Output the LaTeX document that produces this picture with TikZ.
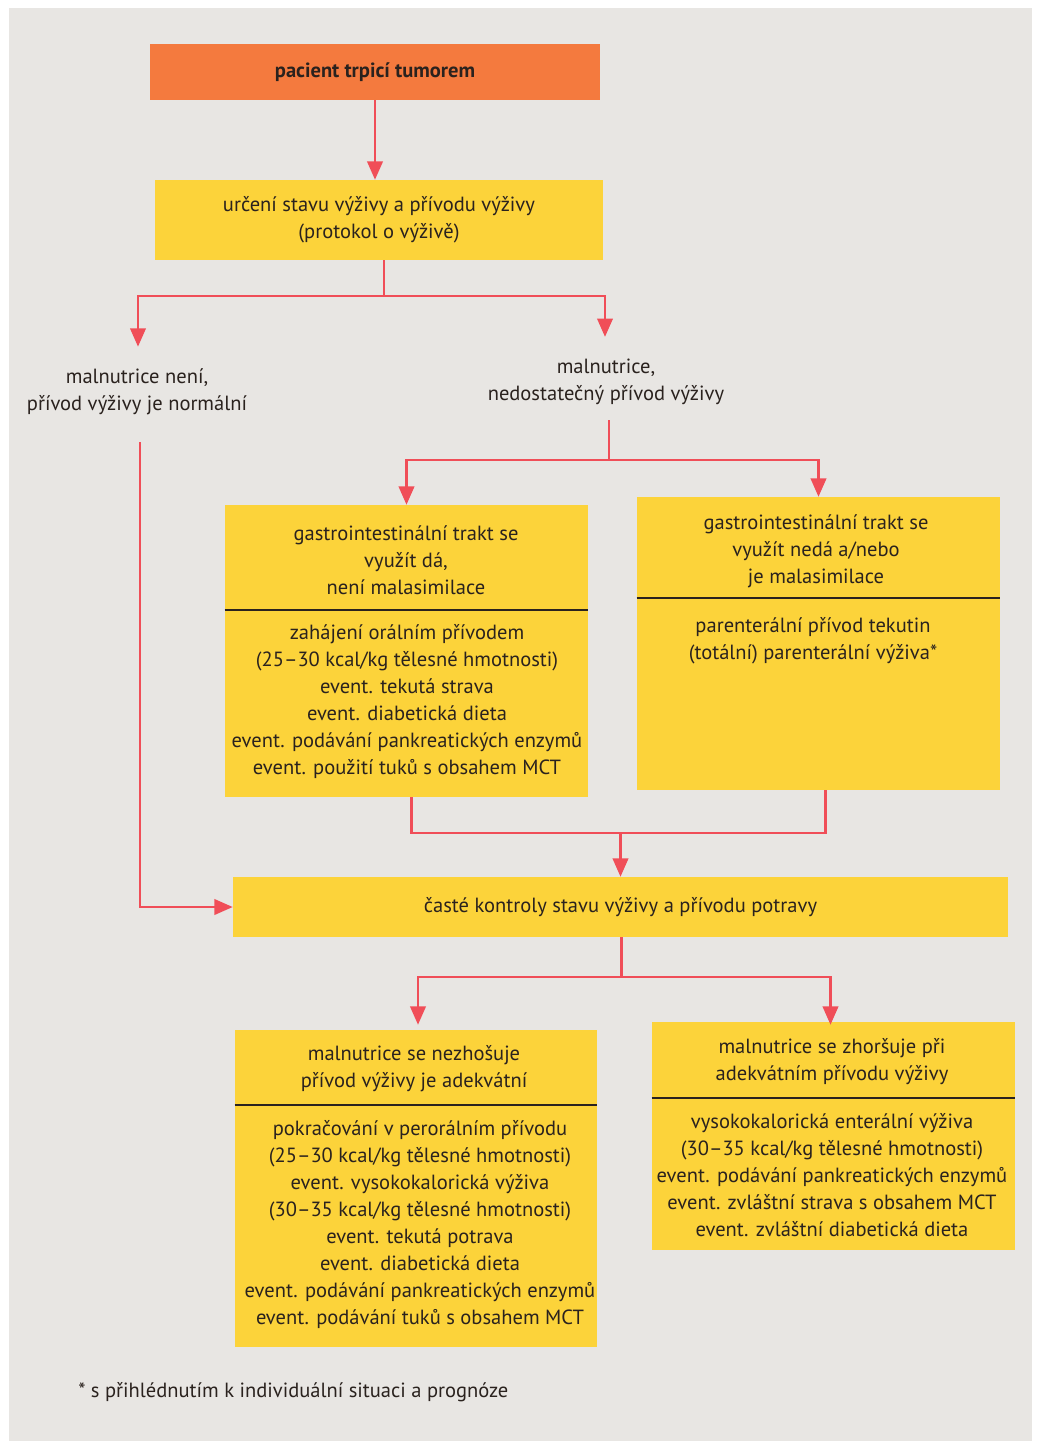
\documentclass[tikz,border=0pt]{standalone}
\usepackage{fontspec}
\setmainfont{PT Sans}
\usetikzlibrary{arrows.meta, positioning, calc}

\definecolor{paper}{HTML}{E8E6E3}
\definecolor{boxorange}{HTML}{F47A3E}
\definecolor{boxyellow}{HTML}{FCD33A}
\definecolor{flow}{HTML}{F04E58}
\definecolor{ink}{HTML}{2A221E}

\tikzset{
	box/.style={fill=boxyellow, inner sep=0pt, text=ink, align=center, font=\fontsize{14.6}{19.2}\selectfont},
	txt/.style={inner sep=0pt, text=ink, align=center, font=\fontsize{14.6}{19.2}\selectfont},
	flowline/.style={draw=flow, line width=1.6pt},
	flowarrow/.style={flowline, -{Triangle[width=11pt,length=13pt]}},
	divider/.style={draw=ink, line width=1.1pt},
}

\begin{document}
\begin{tikzpicture}[x=0.025cm, y=-0.025cm]
	\def\u{0.025cm}

	% paper
	\fill[white]	(0,0) rectangle (1040,1449);
	\fill[paper]	(9,8) rectangle (1032,1441);

	% top of the chart
	\node[box, fill=boxorange, minimum width=450*\u, minimum height=56*\u, font=\fontsize{14.6}{19.2}\selectfont\bfseries] (patient) at (375,72) {pacient trpicí tumorem};
	\node[box, minimum width=448*\u, minimum height=80*\u] (assess) at (379,220) {určení stavu výživy a přívodu výživy\\(protokol o výživě)};

	\node[txt] (noMal) at (137,392) {malnutrice není,\\přívod výživy je normální};
	\node[txt] (mal) at (606,382) {malnutrice,\\nedostatečný přívod výživy};

	% gastrointestinal boxes
	\node[box, minimum width=363*\u, minimum height=292*\u] (giYes) at (406.5,651) {};
	\draw[divider]	(giYes.west |- 0,610) -- (giYes.east |- 0,610);
	\node[txt] (giYesHead) at (406,560) {gastrointestinální trakt se\\využít dá,\\není malasimilace};
	\node[txt] (giYesBody) at (407,702) {zahájení orálním přívodem\\(25–30 kcal/kg tělesné hmotnosti)\\event. tekutá strava\\event. diabetická dieta\\event. podávání pankreatických enzymů\\event. použití tuků s obsahem MCT};

	\node[box, minimum width=363*\u, minimum height=293*\u] (giNo) at (818.5,643.5) {};
	\draw[divider]	(giNo.west |- 0,598) -- (giNo.east |- 0,598);
	\node[txt] (giNoHead) at (816,551) {gastrointestinální trakt se\\využít nedá a/nebo\\je malasimilace};
	\node[txt] (giNoBody) at (813,640.5) {parenterální přívod tekutin\\(totální) parenterální výživa*};

	\node[box, minimum width=775*\u, minimum height=60*\u] (control) at (620.5,907) {časté kontroly stavu výživy a přívodu potravy};

	% follow-up boxes
	\node[box, minimum width=362*\u, minimum height=317*\u] (stable) at (416,1188.5) {};
	\draw[divider]	(stable.west |- 0,1105) -- (stable.east |- 0,1105);
	\node[txt] (stableHead) at (414,1069) {malnutrice se nezhošuje\\přívod výživy je adekvátní};
	\node[txt] (stableBody) at (420,1225) {pokračování v perorálním přívodu\\(25–30 kcal/kg tělesné hmotnosti)\\event. vysokokalorická výživa\\(30–35 kcal/kg tělesné hmotnosti)\\event. tekutá potrava\\event. diabetická dieta\\event. podávání pankreatických enzymů\\event. podávání tuků s obsahem MCT};

	\node[box, minimum width=363*\u, minimum height=228*\u] (worse) at (833.5,1136) {};
	\draw[divider]	(worse.west |- 0,1098) -- (worse.east |- 0,1098);
	\node[txt] (worseHead) at (832,1061.5) {malnutrice se zhoršuje při\\adekvátním přívodu výživy};
	\node[txt] (worseBody) at (832,1175.5) {vysokokalorická enterální výživa\\(30–35 kcal/kg tělesné hmotnosti)\\event. podávání pankreatických enzymů\\event. zvláštní strava s obsahem MCT\\event. zvláštní diabetická dieta};

	\node[txt, anchor=west] (note) at (78,1392) {* s přihlédnutím k individuální situaci a prognóze};

	% connectors
	\draw[flowarrow]	(patient.south) -- (patient.south |- assess.north);

	\coordinate (forkA) at ($(assess.south)+(5,36)$);
	\draw[flowline]		($(assess.south)+(5,0)$) -- (forkA);
	\draw[flowarrow]	(forkA) -| ($(noMal.north)+(1,-22)$);
	\draw[flowarrow]	(forkA) -| ($(mal.north)+(-1,-22)$);

	\coordinate (forkB) at ($(mal.south)+(3,55)$);
	\draw[flowline]		($(mal.south)+(3,15)$) -- (forkB);
	\draw[flowarrow]	(forkB) -| (giYes.north);
	\draw[flowarrow]	(forkB) -| (giNo.north);

	\coordinate (join) at ($(giYes.south)+(5,36)$);
	\draw[flowline]		($(giYes.south)+(5,0)$) -- (join) -| ($(giNo.south)+(7,0)$);
	\draw[flowarrow]	(join -| control.north) -- (control.north);

	\draw[flowarrow]	($(noMal.south)+(3,27)$) |- (control.west);

	\coordinate (forkC) at ($(control.south)+(1,40)$);
	\draw[flowline]		($(control.south)+(1,0)$) -- (forkC);
	\draw[flowarrow]	(forkC) -| ($(stable.north)+(2,-5)$);
	\draw[flowarrow]	(forkC) -| ($(worse.north)+(-3,3)$);
\end{tikzpicture}
\end{document}
